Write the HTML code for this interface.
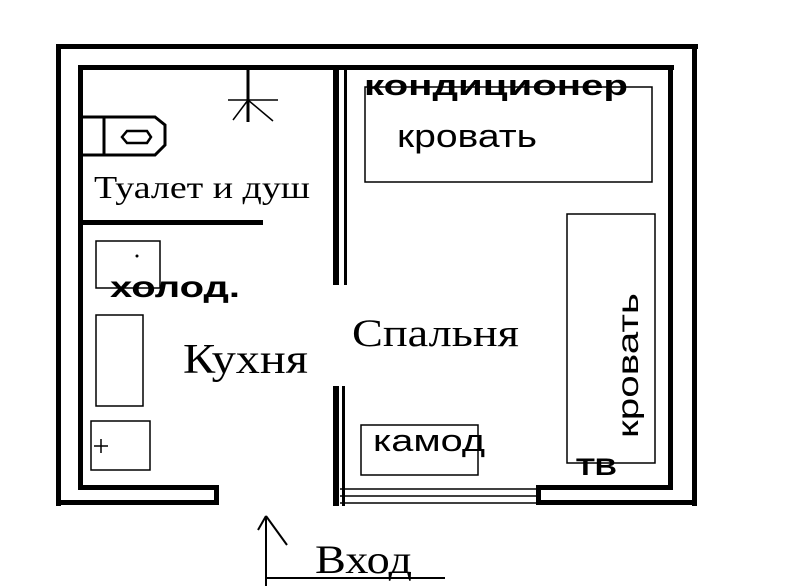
<!DOCTYPE html>
<html><head><meta charset="utf-8"><style>
html,body{margin:0;padding:0;background:#fff;}
svg{display:block;}
.s{font-family:"Liberation Serif",serif;fill:#000;}
.a{font-family:"Liberation Sans",sans-serif;fill:#000;}
</style></head><body>
<svg width="800" height="586" viewBox="0 0 800 586" xmlns="http://www.w3.org/2000/svg">
<g fill="#000">
<rect x="56" y="44" width="642" height="5"/>
<rect x="56" y="44" width="5" height="462"/>
<rect x="692" y="44" width="5" height="462"/>
<rect x="56" y="500" width="163" height="5"/>
<rect x="536" y="500" width="161" height="5"/>
<rect x="78" y="65" width="596" height="5"/>
<rect x="78" y="65" width="5" height="425"/>
<rect x="668" y="65" width="5" height="425"/>
<rect x="78" y="485" width="141" height="5"/>
<rect x="536" y="485" width="137" height="5"/>
<rect x="214" y="485" width="5" height="20"/>
<rect x="536" y="485" width="5" height="20"/>
<rect x="333" y="65" width="6" height="220"/>
<rect x="344" y="65" width="3" height="220"/>
<rect x="333" y="386" width="6" height="120"/>
<rect x="342" y="386" width="3" height="120"/>
<rect x="83" y="220" width="180" height="5"/>
</g>
<g stroke="#000" fill="none">
<line x1="340" y1="489" x2="537" y2="489" stroke-width="1.5"/>
<line x1="340" y1="496" x2="537" y2="496" stroke-width="1.5"/>
<line x1="340" y1="503" x2="537" y2="503" stroke-width="1.5"/>
<line x1="248" y1="70" x2="248" y2="122" stroke-width="3"/>
<line x1="228" y1="100" x2="278" y2="100" stroke-width="1.5"/>
<line x1="248" y1="100" x2="233" y2="120" stroke-width="1.5"/>
<line x1="248" y1="100" x2="273" y2="121" stroke-width="1.5"/>
<path d="M83 117 H155 L165 125 V145 L155 155 H83" stroke-width="3"/>
<line x1="104" y1="117" x2="104" y2="155" stroke-width="3"/>
<path d="M122 137 L127 131 H147 L151 137 L147 143 H127 Z" stroke-width="2.5"/>
<rect x="365" y="87" width="287" height="95" stroke-width="1.5"/>
<rect x="567" y="214" width="88" height="249" stroke-width="1.5"/>
<rect x="96" y="241" width="64" height="47" stroke-width="1.5"/>
<rect x="96" y="315" width="47" height="91" stroke-width="1.5"/>
<rect x="91" y="421" width="59" height="49" stroke-width="1.5"/>
<rect x="361" y="425" width="117" height="50" stroke-width="1.5"/>
<line x1="94" y1="446" x2="108" y2="446" stroke-width="1.5"/>
<line x1="101" y1="439" x2="101" y2="453" stroke-width="1.5"/>
<line x1="266" y1="516" x2="266" y2="586" stroke-width="2"/>
<line x1="266" y1="578" x2="445" y2="578" stroke-width="2"/>
<line x1="266" y1="516" x2="258" y2="530" stroke-width="2"/>
<line x1="266" y1="516" x2="287" y2="545" stroke-width="2"/>
</g>
<circle cx="137" cy="256" r="1.5" fill="#000"/>
<text class="s" x="94" y="198" font-size="32" textLength="216" lengthAdjust="spacingAndGlyphs">Туалет и душ</text>
<text class="a" x="110" y="297" font-size="30" font-weight="bold" textLength="130" lengthAdjust="spacingAndGlyphs">холод.</text>
<text class="s" x="183" y="373" font-size="42" textLength="125" lengthAdjust="spacingAndGlyphs">Кухня</text>
<text class="s" x="352" y="346" font-size="39" textLength="167" lengthAdjust="spacingAndGlyphs">Спальня</text>
<text class="a" x="364" y="95" font-size="29" font-weight="bold" textLength="264" lengthAdjust="spacingAndGlyphs">кондиционер</text>
<text class="a" x="397" y="147" font-size="32" textLength="140" lengthAdjust="spacingAndGlyphs">кровать</text>
<text class="a" x="373" y="451" font-size="31" textLength="112" lengthAdjust="spacingAndGlyphs">камод</text>
<text class="a" x="576" y="475" font-size="24" font-weight="bold" textLength="41" lengthAdjust="spacingAndGlyphs">ТВ</text>
<text class="a" font-size="30" transform="translate(638,438) rotate(-90)" textLength="145" lengthAdjust="spacingAndGlyphs">кровать</text>
<text class="s" x="315" y="573" font-size="40" textLength="97" lengthAdjust="spacingAndGlyphs">Вход</text>
</svg>
</body></html>
